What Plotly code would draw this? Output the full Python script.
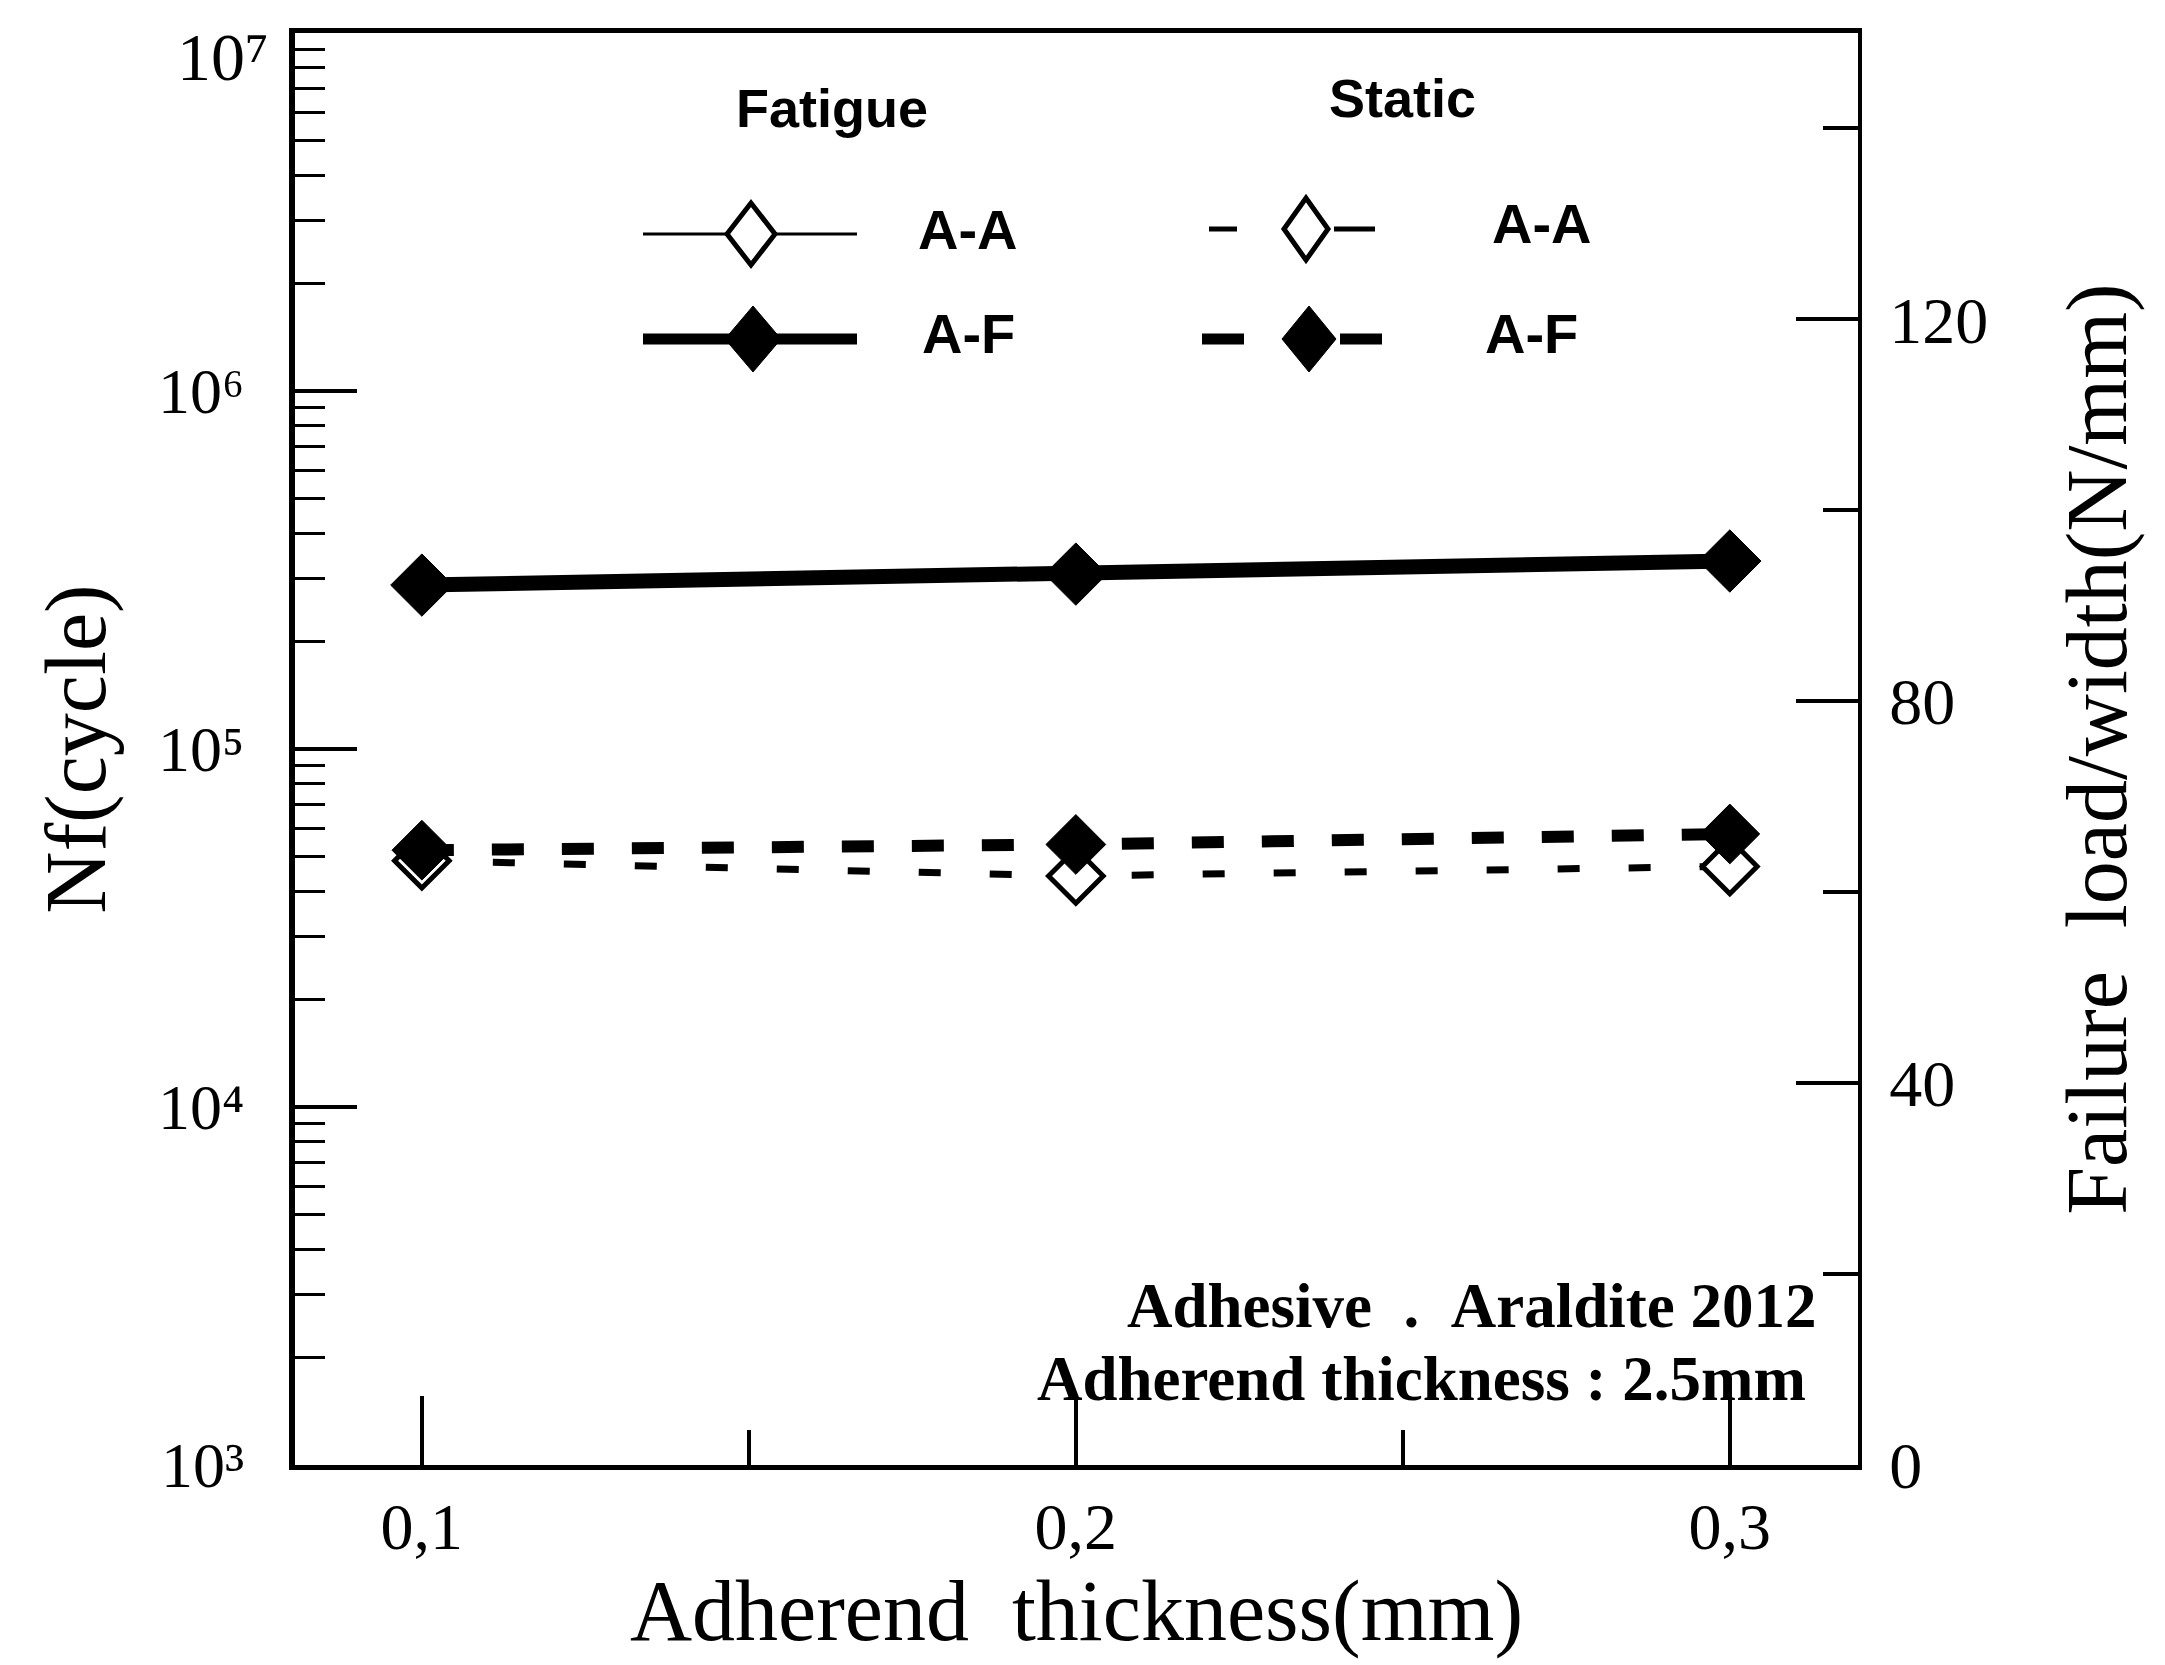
import plotly.graph_objects as go

# ---- data ----
thickness = [0.1, 0.2, 0.3]
fatigue_AF = [2.87e5, 3.08e5, 3.35e5]      # Nf (cycle), left log axis
static_AA = [63.3, 61.7, 62.7]              # failure load/width (N/mm), right axis
static_AF = [64.4, 65.0, 66.1]

x_tick_vals = [0.1, 0.2, 0.3]
x_tick_text = ["0,1", "0,2", "0,3"]
x_minor_vals = [0.15, 0.25]
y_tick_vals = [1e3, 1e4, 1e5, 1e6, 1e7]
y_tick_text = ["10\u00b3", "10\u2074", "10\u2075", "10\u2076", "10\u2077"]
y_minor_vals = [m * 10 ** e for e in range(3, 7) for m in range(2, 10)]
y2_tick_vals = [0, 40, 80, 120]
y2_tick_text = ["0", "40", "80", "120"]
y2_minor_vals = [20, 60, 100, 140]

SERIF = "Liberation Serif, Times New Roman, serif"
SANS = "Liberation Sans, Arial, sans-serif"

fig = go.Figure()
fig.add_trace(go.Scatter(
    x=thickness, y=fatigue_AF, yaxis="y", mode="lines+markers", name="Fatigue A-F",
    line=dict(color="black", width=15),
    marker=dict(symbol="diamond", size=48, color="black", line=dict(color="black", width=1)),
    showlegend=False))
fig.add_trace(go.Scatter(
    x=thickness, y=static_AA, yaxis="y2", mode="lines+markers", name="Static A-A",
    line=dict(color="black", width=7, dash="22px,49px"),
    marker=dict(symbol="diamond", size=42, color="white", line=dict(color="black", width=5)),
    showlegend=False))
fig.add_trace(go.Scatter(
    x=thickness, y=static_AF, yaxis="y2", mode="lines+markers", name="Static A-F",
    line=dict(color="black", width=12, dash="32px,38px"),
    marker=dict(symbol="diamond", size=46, color="black", line=dict(color="black", width=1)),
    showlegend=False))

L, R, T, B = 287, 1850, 25, 1457
W, H = 2165, 1665


def px(xp):
    return (xp - L) / (R - L)


def py(yp):
    return (B - yp) / (B - T)


def diamond_path(hw, hh):
    return f"M {-hw} 0 L 0 {hh} L {hw} 0 L 0 {-hh} Z"


shapes = []
annotations = []

# manual legend (Fatigue column)
row1, row2 = py(226), py(331)
shapes.append(dict(type="line", xref="paper", yref="paper", x0=px(635), x1=px(849), y0=row1, y1=row1,
                   line=dict(color="black", width=3)))
shapes.append(dict(type="path", xref="paper", yref="paper", xsizemode="pixel", ysizemode="pixel",
                   xanchor=px(743), yanchor=row1, path=diamond_path(24, 31),
                   fillcolor="white", line=dict(color="black", width=5)))
shapes.append(dict(type="line", xref="paper", yref="paper", x0=px(635), x1=px(849), y0=row2, y1=row2,
                   line=dict(color="black", width=11)))
shapes.append(dict(type="path", xref="paper", yref="paper", xsizemode="pixel", ysizemode="pixel",
                   xanchor=px(745), yanchor=row2, path=diamond_path(28, 33),
                   fillcolor="black", line=dict(color="black", width=1)))
# Static column
srow1 = py(221)
for a, b in [(1201, 1229), (1326, 1367)]:
    shapes.append(dict(type="line", xref="paper", yref="paper", x0=px(a), x1=px(b), y0=srow1, y1=srow1,
                       line=dict(color="black", width=5)))
shapes.append(dict(type="path", xref="paper", yref="paper", xsizemode="pixel", ysizemode="pixel",
                   xanchor=px(1298), yanchor=srow1, path=diamond_path(22, 31),
                   fillcolor="white", line=dict(color="black", width=5)))
for a, b in [(1194, 1236), (1332, 1374)]:
    shapes.append(dict(type="line", xref="paper", yref="paper", x0=px(a), x1=px(b), y0=row2, y1=row2,
                       line=dict(color="black", width=11)))
shapes.append(dict(type="path", xref="paper", yref="paper", xsizemode="pixel", ysizemode="pixel",
                   xanchor=px(1301), yanchor=row2, path=diamond_path(27, 33),
                   fillcolor="black", line=dict(color="black", width=1)))

head_font = dict(family=SANS, size=54, color="black", weight="bold")
leg_font = dict(family=SANS, size=56, color="black", weight="bold")
annotations += [
    dict(text="Fatigue", x=px(824), y=py(100), xref="paper", yref="paper", showarrow=False,
         xanchor="center", yanchor="middle", font=head_font),
    dict(text="Static", x=px(1394), y=py(90), xref="paper", yref="paper", showarrow=False,
         xanchor="center", yanchor="middle", font=head_font),
    dict(text="A-A", x=px(908), y=py(221), xref="paper", yref="paper", showarrow=False,
         xanchor="left", yanchor="middle", font=leg_font),
    dict(text="A-F", x=px(912), y=py(326), xref="paper", yref="paper", showarrow=False,
         xanchor="left", yanchor="middle", font=leg_font),
    dict(text="A-A", x=px(1482), y=py(216), xref="paper", yref="paper", showarrow=False,
         xanchor="left", yanchor="middle", font=leg_font),
    dict(text="A-F", x=px(1475), y=py(326), xref="paper", yref="paper", showarrow=False,
         xanchor="left", yanchor="middle", font=leg_font),
]

note_font = dict(family=SERIF, size=63, color="black", weight="bold")
annotations += [
    dict(text="Adhesive&nbsp;&nbsp;.&nbsp;&nbsp;Araldite 2012", x=px(1810), y=py(1298), xref="paper", yref="paper",
         showarrow=False, xanchor="right", yanchor="middle", font=note_font),
    dict(text="Adherend thickness : 2.5mm", x=px(1800), y=py(1371), xref="paper", yref="paper",
         showarrow=False, xanchor="right", yanchor="middle", font=note_font),
]

# top decade label (placed just below the top edge, as in the original)
annotations.append(dict(text=y_tick_text[-1], x=0, xref="paper", y=7, yref="y",
                        xanchor="right", yanchor="middle", xshift=-24, yshift=-24, showarrow=False,
                        font=dict(family=SERIF, size=68, color="black")))

tick_font = dict(family=SERIF, size=66, color="black")
title_font = dict(family=SERIF, size=86, color="black")

fig.update_layout(
    width=W, height=H,
    margin=dict(l=L, r=W - R, t=T, b=H - B, autoexpand=False),
    paper_bgcolor="white", plot_bgcolor="white",
    showlegend=False,
    xaxis=dict(
        range=[0.0806, 0.3196], showline=True, linewidth=5, linecolor="black", mirror=True,
        ticks="inside", ticklen=69, tickwidth=4, tickcolor="black",
        tickvals=x_tick_vals, ticktext=x_tick_text, tickfont=tick_font,
        minor=dict(tickvals=x_minor_vals, ticks="inside", ticklen=35, tickwidth=4, tickcolor="black"),
        showgrid=False, zeroline=False,
        title=dict(text="Adherend&nbsp;&nbsp;thickness(mm)", font=title_font, standoff=14),
    ),
    yaxis=dict(
        type="log", range=[3, 7], showline=True, linewidth=6, linecolor="black",
        ticks="inside", ticklen=62, tickwidth=4, tickcolor="black",
        tickvals=y_tick_vals[:-1], ticktext=y_tick_text[:-1],
        tickfont=dict(family=SERIF, size=64, color="black"),
        ticklabelstandoff=32,
        minor=dict(tickvals=y_minor_vals, ticks="inside", ticklen=30, tickwidth=3, tickcolor="black"),
        showgrid=False, zeroline=False,
        title=dict(text="Nf(cycle)", font=title_font, standoff=26),
    ),
    yaxis2=dict(
        overlaying="y", side="right", range=[0, 150], showline=True, linewidth=4, linecolor="black",
        ticks="inside", ticklen=62, tickwidth=4, tickcolor="black",
        tickvals=y2_tick_vals, ticktext=y2_tick_text, tickfont=tick_font,
        ticklabelstandoff=14,
        minor=dict(tickvals=y2_minor_vals, ticks="inside", ticklen=35, tickwidth=4, tickcolor="black"),
        showgrid=False, zeroline=False,
        title=dict(text="Failure&nbsp;&nbsp;load/width(N/mm)", font=title_font, standoff=80),
    ),
    shapes=shapes,
    annotations=annotations,
)

fig.write_html("out.html")
